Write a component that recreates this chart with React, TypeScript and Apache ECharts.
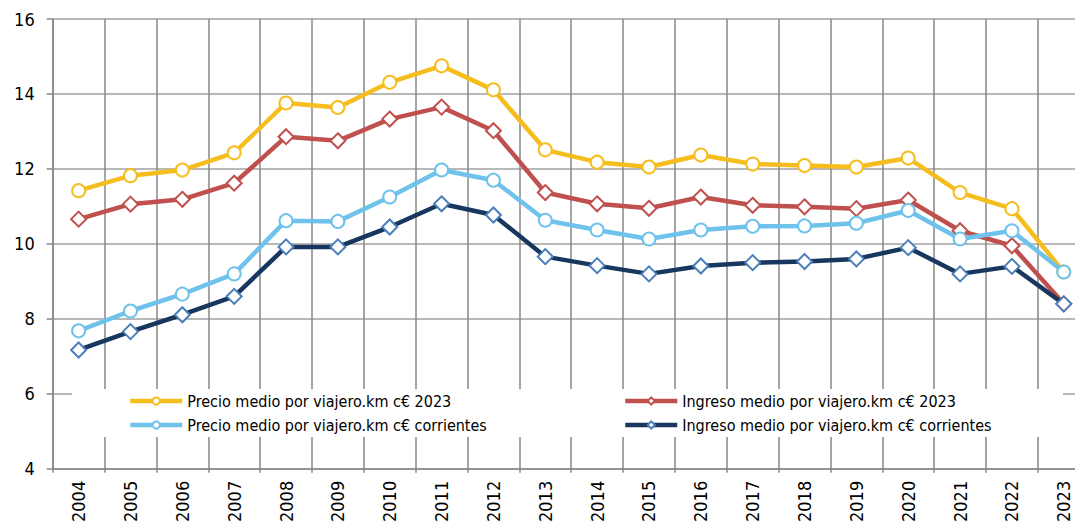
import React, { useEffect, useRef } from "react";
import * as echarts from "echarts";

// Años de la serie
const years = [
  "2004", "2005", "2006", "2007", "2008", "2009", "2010", "2011", "2012", "2013",
  "2014", "2015", "2016", "2017", "2018", "2019", "2020", "2021", "2022", "2023",
];

// Precio medio por viajero.km, céntimos de euro constantes de 2023
const precio2023 = [
  11.42, 11.82, 11.97, 12.43, 13.76, 13.64, 14.31, 14.75, 14.11, 12.51,
  12.18, 12.05, 12.37, 12.13, 12.09, 12.05, 12.29, 11.37, 10.94, 9.25,
];

// Ingreso medio por viajero.km, céntimos de euro constantes de 2023
const ingreso2023 = [
  10.66, 11.06, 11.19, 11.62, 12.86, 12.75, 13.33, 13.65, 13.02, 11.37,
  11.07, 10.95, 11.25, 11.03, 10.99, 10.94, 11.17, 10.35, 9.95, 8.4,
];

// Precio medio por viajero.km, céntimos de euro corrientes
const precioCorrientes = [
  7.68, 8.21, 8.66, 9.2, 10.62, 10.6, 11.25, 11.97, 11.7, 10.63,
  10.37, 10.13, 10.37, 10.47, 10.48, 10.55, 10.89, 10.13, 10.35, 9.25,
];

// Ingreso medio por viajero.km, céntimos de euro corrientes
const ingresoCorrientes = [
  7.17, 7.66, 8.11, 8.6, 9.92, 9.92, 10.45, 11.07, 10.77, 9.66,
  9.42, 9.2, 9.41, 9.5, 9.53, 9.6, 9.9, 9.2, 9.4, 8.4,
];

const yTicks = { min: 4, max: 16, interval: 2 };

const NAMES = {
  p23: "Precio medio por viajero.km c€ 2023",
  i23: "Ingreso medio por viajero.km c€ 2023",
  pc: "Precio medio por viajero.km c€ corrientes",
  ic: "Ingreso medio por viajero.km c€ corrientes",
};

const FONT = "'DejaVu Sans Condensed', 'DejaVu Sans', sans-serif";
const GRID_V = "#878787";
const GRID_H = "#a0a0a0";

function lineSeries(
  name: string,
  data: number[],
  color: string,
  symbol: string,
  symbolSize: number,
  border: string
) {
  return {
    name,
    type: "line",
    data,
    symbol,
    symbolSize,
    showAllSymbol: true,
    lineStyle: { color, width: 4.5 },
    itemStyle: { color: "#ffffff", borderColor: border, borderWidth: 2 },
    emphasis: { disabled: true },
  };
}

export default function App() {
  const ref = useRef<HTMLDivElement>(null);

  useEffect(() => {
    if (!ref.current) return;
    const chart = echarts.init(ref.current, undefined, { renderer: "svg" });

    const legendText = { fontFamily: FONT, fontSize: 16, color: "#000" };
    const legendBase = {
      z: 5,
      top: 393,
      orient: "vertical",
      padding: 0,
      itemWidth: 52,
      itemHeight: 9,
      itemGap: 8,
      textStyle: legendText,
      lineStyle: { width: 4.5 },
      selectedMode: false,
    };

    chart.setOption({
      animation: false,
      backgroundColor: "#ffffff",
      textStyle: { fontFamily: FONT },
      grid: { left: 52.7, top: 19, width: 1037, height: 451, containLabel: false },
      xAxis: {
        type: "category",
        data: years,
        boundaryGap: true,
        axisLine: { show: true, lineStyle: { color: GRID_V, width: 1.5 } },
        axisTick: { show: true, length: 4, interval: 0, lineStyle: { color: GRID_V, width: 1.5 } },
        splitLine: { show: true, interval: 0, lineStyle: { color: GRID_V, width: 1.5 } },
        axisLabel: {
          rotate: 90,
          interval: 0,
          margin: 12,
          fontSize: 18,
          fontFamily: FONT,
          color: "#000",
        },
      },
      yAxis: {
        type: "value",
        min: yTicks.min,
        max: yTicks.max,
        interval: yTicks.interval,
        axisLine: { show: true, lineStyle: { color: GRID_V, width: 1.5 } },
        axisTick: { show: true, length: 6, lineStyle: { color: GRID_V, width: 1.5 } },
        splitLine: { show: true, lineStyle: { color: GRID_H, width: 1.5 } },
        axisLabel: { margin: 18, fontSize: 18, fontFamily: FONT, color: "#000" },
      },
      graphic: {
        elements: [
          {
            type: "rect",
            z: 3,
            shape: { x: 72, y: 389, width: 991, height: 48 },
            style: { fill: "#ffffff" },
            silent: true,
          },
        ],
      },
      legend: [
        { ...legendBase, left: 128, data: [NAMES.p23, NAMES.pc] },
        { ...legendBase, left: 623, data: [NAMES.i23, NAMES.ic] },
      ],
      series: [
        lineSeries(NAMES.p23, precio2023, "#F5BE1E", "circle", 13, "#F5BE1E"),
        lineSeries(NAMES.i23, ingreso2023, "#C0504D", "diamond", 15, "#C0504D"),
        lineSeries(NAMES.pc, precioCorrientes, "#6EC2EC", "circle", 13, "#6EC2EC"),
        lineSeries(NAMES.ic, ingresoCorrientes, "#17375E", "diamond", 15, "#4A7EBB"),
      ],
    });

    return () => chart.dispose();
  }, []);

  return (
    <div
      style={{
        position: "fixed",
        left: 0,
        top: 0,
        width: 1075,
        height: 525,
        overflow: "hidden",
        background: "#fff",
      }}
    >
      <div ref={ref} style={{ width: 1100, height: 525 }} />
    </div>
  );
}
